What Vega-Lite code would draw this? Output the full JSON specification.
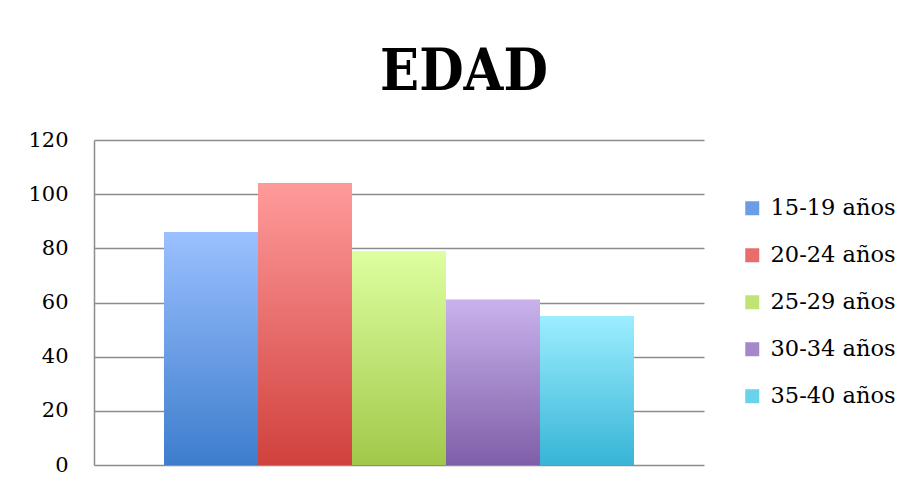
{
  "$schema": "https://vega.github.io/schema/vega-lite/v6.json",
  "width": 610,
  "height": 325,
  "padding": {"left": 27, "top": 44, "right": 10, "bottom": 23},
  "background": "white",
  "title": {
    "text": "EDAD",
    "font": "DejaVu Serif Condensed",
    "fontWeight": "bold",
    "fontSize": 57,
    "color": "#000000",
    "anchor": "middle",
    "frame": "bounds",
    "offset": 27,
    "dx": 2
  },
  "data": {
    "values": [
      {"grupo": "15-19 años", "valor": 86},
      {"grupo": "20-24 años", "valor": 104},
      {"grupo": "25-29 años", "valor": 79},
      {"grupo": "30-34 años", "valor": 61},
      {"grupo": "35-40 años", "valor": 55}
    ]
  },
  "encoding": {
    "x": {
      "field": "grupo",
      "type": "nominal",
      "axis": null,
      "scale": {"paddingInner": 0, "paddingOuter": 0.745}
    },
    "y": {
      "field": "valor",
      "type": "quantitative",
      "scale": {"domain": [0, 120]},
      "axis": {
        "values": [0, 20, 40, 60, 80, 100, 120],
        "title": null,
        "ticks": false,
        "domain": true,
        "domainColor": "#8c8c8c",
        "domainWidth": 1.5,
        "grid": true,
        "gridColor": "#8c8c8c",
        "gridWidth": 1.5,
        "labelFont": "DejaVu Serif",
        "labelFontSize": 21,
        "labelColor": "#000000",
        "labelPadding": 26
      }
    }
  },
  "layer": [
    {
      "mark": {"type": "bar"},
      "encoding": {
        "color": {
          "field": "grupo",
          "type": "nominal",
          "scale": {"range": ["#6a9de6", "#e86e6c", "#c0e474", "#a488ca", "#6ad2ea"]},
          "legend": {
            "title": null,
            "orient": "right",
            "offset": 37,
            "symbolType": "square",
            "symbolSize": 196,
            "symbolStrokeWidth": 0,
            "symbolOpacity": 1,
            "labelFont": "DejaVu Serif",
            "labelFontSize": 22.5,
            "labelColor": "#000000",
            "labelOffset": 7,
            "rowPadding": 24,
            "labelLimit": 300
          }
        }
      }
    },
    {
      "mark": {"type": "bar"},
      "encoding": {
        "color": {
          "condition": [
            {"test": "datum.grupo === '15-19 años'", "value": {"gradient": "linear", "x1": 0, "y1": 0, "x2": 0, "y2": 1, "stops": [{"offset": 0, "color": "#9bc0ff"}, {"offset": 1, "color": "#3d7dcc"}]}},
            {"test": "datum.grupo === '20-24 años'", "value": {"gradient": "linear", "x1": 0, "y1": 0, "x2": 0, "y2": 1, "stops": [{"offset": 0, "color": "#ff9b9b"}, {"offset": 1, "color": "#d0413d"}]}},
            {"test": "datum.grupo === '25-29 años'", "value": {"gradient": "linear", "x1": 0, "y1": 0, "x2": 0, "y2": 1, "stops": [{"offset": 0, "color": "#ddffa0"}, {"offset": 1, "color": "#a2c84a"}]}},
            {"test": "datum.grupo === '30-34 años'", "value": {"gradient": "linear", "x1": 0, "y1": 0, "x2": 0, "y2": 1, "stops": [{"offset": 0, "color": "#c9b2ec"}, {"offset": 1, "color": "#7f5ea8"}]}}
          ],
          "value": {"gradient": "linear", "x1": 0, "y1": 0, "x2": 0, "y2": 1, "stops": [{"offset": 0, "color": "#9ceeff"}, {"offset": 1, "color": "#37b4d6"}]}
        }
      }
    }
  ],
  "config": {
    "view": {"stroke": null},
    "legend": {"layout": {"right": {"anchor": "middle"}}}
  }
}
